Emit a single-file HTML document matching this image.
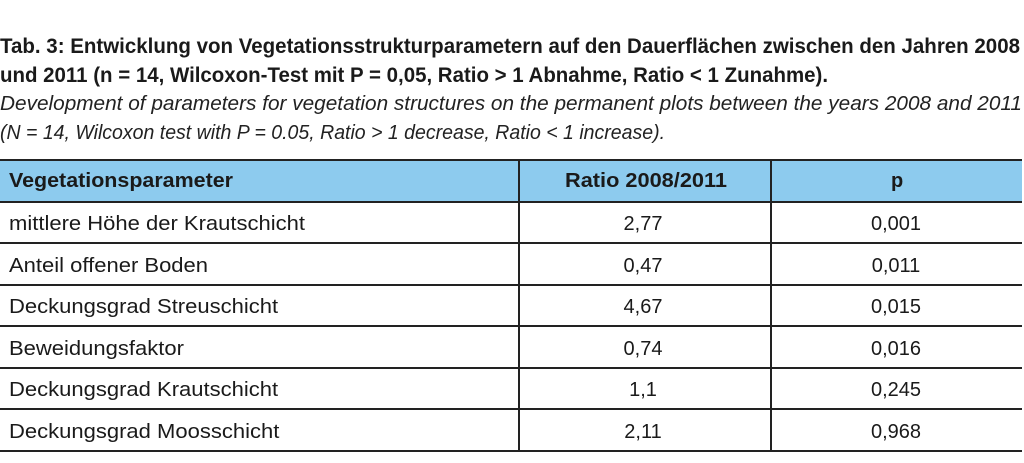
<!DOCTYPE html>
<html><head><meta charset="utf-8"><style>
body{margin:0;width:1024px;height:463px;background:#fff;position:relative;overflow:hidden;font-family:"Liberation Sans",sans-serif;color:#1a1a1a}
.t{position:absolute;white-space:nowrap;line-height:1;transform-origin:0 50%}
.b{font-weight:bold;font-size:21px}
.i{font-style:italic;font-size:20px;color:#222}
.hl{position:absolute;left:0;width:1022px;background:#222}
.vl{position:absolute;width:2px;background:#222;top:160px;height:292px}
.c{font-size:20px}
</style></head><body>
<div class="t b" data-w="1020" style="left:0;top:36px">Tab. 3: Entwicklung von Vegetationsstrukturparametern auf den Dauerflächen zwischen den Jahren 2008</div>
<div class="t b" data-w="828" style="left:0;top:65px">und 2011 (n = 14, Wilcoxon-Test mit P = 0,05, Ratio &gt; 1 Abnahme, Ratio &lt; 1 Zunahme).</div>
<div class="t i" data-w="1022" style="left:0;top:94px">Development of parameters for vegetation structures on the permanent plots between the years 2008 and 2011</div>
<div class="t i" data-w="665" style="left:0;top:123px">(N = 14, Wilcoxon test with P = 0.05, Ratio &gt; 1 decrease, Ratio &lt; 1 increase).</div>

<div style="position:absolute;left:0;top:160px;width:1022px;height:41px;background:#8dcbee"></div>
<div class="hl" style="top:159px;height:2px"></div>
<div class="hl" style="top:201px;height:2px"></div>
<div class="vl" style="left:518px"></div>
<div class="vl" style="left:770px"></div>

<div class="t b" data-w="224" style="left:9px;top:171px;font-size:20px">Vegetationsparameter</div>
<div class="t b" data-w="162" style="left:565px;top:171px;font-size:20px">Ratio 2008/2011</div>
<div class="t b" style="left:891px;top:171px;font-size:20px">p</div>
<div id="rows"></div>
<script>
const params=["mittlere Höhe der Krautschicht","Anteil offener Boden","Deckungsgrad Streuschicht","Beweidungsfaktor","Deckungsgrad Krautschicht","Deckungsgrad Moosschicht"];
const ratios=["2,77","0,47","4,67","0,74","1,1","2,11"];
const pvals=["0,001","0,011","0,015","0,016","0,245","0,968"];
const rows=document.getElementById('rows');
const firstCells=[];
params.forEach((p,i)=>{
  const top=Math.round(203+i*41.6);
  const line=document.createElement('div');
  line.className='hl';
  
  
  line.style.top=(top+39)+'px';line.style.height='2px';
  rows.appendChild(line);
  const mk=(txt,left,center,name)=>{
    const d=document.createElement('div');
    d.className='t c';
    
    
    d.textContent=txt;d.style.top=(top+11)+'px';
    if(center){d.style.left=center+'px';d.style.transform='translateX(-50%)';}
    else d.style.left=left+'px';
    rows.appendChild(d);return d;
  };
  firstCells.push(mk(p,9,null,'parameter-cell'));
  mk(ratios[i],null,643,'ratio-cell');
  mk(pvals[i],null,896,'p-value-cell');
});
document.querySelectorAll('[data-w]').forEach(e=>{
  const w=e.getBoundingClientRect().width;
  e.style.transform='scaleX('+(+e.dataset.w/w)+')';
});
const k=296/firstCells[0].getBoundingClientRect().width;
firstCells.forEach(e=>{e.style.transform='scaleX('+k+')';});
</script>
</body></html>
